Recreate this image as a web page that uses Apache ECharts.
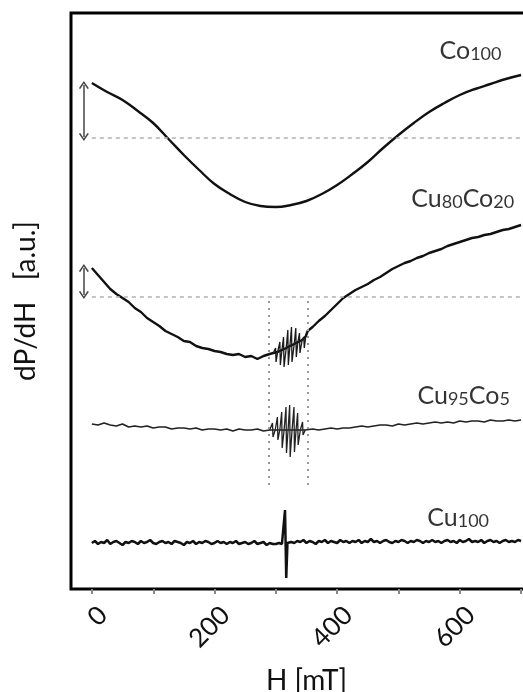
<!DOCTYPE html>
<html>
<head>
<meta charset="utf-8">
<script src="https://cdn.jsdelivr.net/npm/echarts@6/dist/echarts.min.js"></script>
<style>
  html, body { margin: 0; padding: 0; background: #fff; }
  #chart { width: 523px; height: 692px; }
</style>
</head>
<body>
<div id="chart"></div>
<script>
// 数据：H [mT] 与 dP/dH (任意单位，各谱线已上下偏移)
var co100Field  = [0, 25, 50, 75, 100, 125, 150, 175, 200, 225, 250, 275, 300, 325, 350, 375, 400, 425, 450, 475, 500, 525, 550, 575, 600, 625, 650, 675, 700];
var co100Signal = [506, 497, 489, 478, 466, 450, 434, 419, 405, 395, 387, 383, 382, 384, 388, 395, 404, 415, 427, 441, 454, 466, 477, 486, 494, 500, 505, 510, 514];

// Cu80Co20 宽峰(基线)
var cu80Field  = [0, 10, 20, 30, 40, 50, 60, 70, 80, 90, 100, 110, 120, 130, 140, 150, 160, 170, 180, 190, 200, 210, 220, 230, 240, 250, 260, 270, 280, 290,
                  296, 303, 310, 317, 323, 330, 336, 343, 349, 352,
                  360, 370, 380, 390, 400, 410, 420, 430, 440, 450, 460, 470, 480, 490, 500, 510, 520, 530, 540, 550, 560, 570, 580, 590, 600, 610, 620, 630, 640, 650, 660, 670, 680, 690, 700];
var cu80Signal = [321, 314, 307, 300, 295, 291, 287, 281, 277, 271, 267, 263, 258, 255, 252, 248, 247, 243, 241, 240, 238, 237, 235, 234, 235, 232, 233, 230, 233, 235,
                  236, 237, 239, 241, 243, 245, 247, 249, 253, 258,
                  262, 268, 273, 279, 285, 291, 295, 299, 302, 305, 309, 312, 316, 320, 323, 326, 328, 331, 333, 336, 338, 340, 343, 345, 347, 349, 351, 352, 354, 355, 357, 359, 360, 362, 364];
// Cu80Co20 超精细线
var cu80HfField  = [296, 299.6, 300.4, 303, 306.6, 307.4, 310, 312.6, 313.4, 317, 319.6, 320.4, 323, 325.6, 326.4, 330,
                    332.6, 333.4, 336, 338.6, 339.4, 343, 345.6, 346.4, 349];
var cu80HfSignal = [236, 241, 227, 237, 247, 224, 239, 252, 222, 241, 259, 224, 243, 262, 227, 245,
                    261, 232, 247, 256, 236, 249, 252, 241, 253];

// Cu95Co5 基线
var cu95Field  = [0, 10, 20, 30, 40, 50, 60, 70, 80, 90, 100, 110, 120, 130, 140, 150, 160, 170, 180, 190, 200, 210, 220, 230, 240, 250, 260, 270, 280, 290,
                  299, 306.5, 313.5, 320, 326.5, 333, 340, 348,
                  360, 370, 380, 390, 400, 410, 420, 430, 440, 450, 460, 470, 480, 490, 500, 510, 520, 530, 540, 550, 560, 570, 580, 590, 600, 610, 620, 630, 640, 650, 660, 670, 680, 690, 700];
var cu95Signal = [165, 164, 166, 164, 163, 165, 162, 163, 162, 163, 161, 162, 162, 160, 161, 161, 160, 161, 159, 160, 160, 159, 160, 158, 160, 159, 159, 160, 158, 159,
                  159, 159, 159, 159, 159, 159, 159, 159,
                  160, 159, 160, 161, 160, 161, 161, 162, 163, 162, 163, 164, 164, 163, 165, 164, 165, 166, 165, 166, 167, 166, 167, 166, 168, 167, 168, 168, 167, 169, 168, 168, 169, 168, 169];
// Cu95Co5 超精细线
var cu95HfField  = [290, 294.6, 295.4, 299, 302.6, 303.4, 306.5, 309.6, 310.4, 313.5, 316.6, 317.4, 320, 322.6, 323.4, 326.5,
                    329.6, 330.4, 333, 335.6, 336.4, 340, 343.6, 344.4, 348];
var cu95HfSignal = [159, 166, 152, 159, 172, 149, 159, 177, 141, 159, 182, 136, 159, 184, 132, 159,
                    182, 137, 159, 176, 144, 159, 167, 154, 159];

// Cu100：5 mT 采样
var cu100Field = [];
var cu100Signal = [
    46, 48, 45, 47, 46, 49, 45, 47, 48, 46,
    44, 47, 46, 48, 47, 45, 48, 46, 47, 49,
    46, 45, 47, 48, 46, 47, 45, 48, 47, 46,
    44, 47, 46, 48, 45, 47, 46, 48, 47, 45,
    46, 48, 46, 47, 45, 47, 46, 48, 45, 46,
    47, 45, 46, 48, 45, 46, 47, 44, 46, 45,
    45, 46, 45,
    79, 11, 46,
    47, 46, 48, 47, 49, 46, 48, 47, 45, 48,
    47, 49, 46, 48, 47, 46, 49, 47, 48, 46,
    48, 47, 49, 46, 48, 47, 50, 47, 48, 46,
    48, 49, 47, 46, 48, 47, 49, 48, 46, 48,
    47, 49, 48, 46, 48, 47, 49, 47, 48, 46,
    48, 49, 47, 48, 46, 49, 47, 48, 50, 47,
    48, 47, 49, 46, 48, 49, 47, 48, 46, 48,
    49, 47, 48, 47, 49, 48
];
(function () {
    var h;
    for (h = 0; h <= 310; h += 5) cu100Field.push(h);
    cu100Field.push(315, 317, 319);
    for (h = 325; h <= 700; h += 5) cu100Field.push(h);
})();

// 基线(虚线)、超精细区间(点线)、箭头
var baseLevels = [451, 292];            // Co100, Cu80Co20 的零点
var hfBounds = [289, 352];              // 超精细结构区间 H
var hfRange = [104, 292];               // 点线的纵向范围
var arrowCo100 = [504, 452];
var arrowCu80 = [321, 294];

// 样品名称 [H, 信号, 文本]
var sampleLabels = [
    [567, 539, '{m|Co}{s|100}'],
    [521, 391, '{m|Cu}{s|80}{m|Co}{s|20}'],
    [531, 194, '{m|Cu}{s|95}{m|Co}{s|5}'],
    [547, 72, '{m|Cu}{s|100}']
];

var xTicks = [0, 200, 400, 600];

function pairs(xs, ys) {
    var out = [];
    for (var i = 0; i < xs.length; i++) out.push([xs[i], ys[i]]);
    return out;
}

var chart = echarts.init(document.getElementById('chart'));

var chevron = 'path://M0,9 L5,0 L10,9 L8.6,9.8 L5,3.2 L1.4,9.8 Z';
var textFont = 'Lato, "Noto Sans", sans-serif';

var option = {
    backgroundColor: '#fff',
    animation: false,
    textStyle: { fontFamily: textFont },
    grid: [
        {   // 画框与曲线(右边框在画布外)
            left: 71, right: -3, top: 13, bottom: 103, containLabel: false, outerBoundsMode: 'none',
            show: true, borderColor: '#000', borderWidth: 3, backgroundColor: 'transparent'
        },
        { left: 92, right: 2, top: 13, bottom: 103, containLabel: false, outerBoundsMode: 'none' },     // 刻度
        { left: 103, right: -9, top: 13, bottom: 103, containLabel: false, outerBoundsMode: 'none' }    // 斜排刻度标签(略向右下偏移)
    ],
    xAxis: [
        {
            type: 'value', gridIndex: 0, min: -34, max: 708,
            axisLine: { show: false }, axisTick: { show: false }, axisLabel: { show: false }, splitLine: { show: false }
        },
        {   // 刻度
            type: 'value', gridIndex: 1, min: 0, max: 700, interval: 100,
            name: 'H [mT]', nameLocation: 'middle', nameGap: 78,
            nameTextStyle: { fontSize: 28, color: '#111', fontFamily: textFont },
            axisLine: { show: false },
            axisTick: { show: true, length: 5, lineStyle: { color: '#888', width: 2 } },
            axisLabel: { show: false },
            splitLine: { show: false }
        },
        {   // 刻度标签
            type: 'value', gridIndex: 2, min: 0, max: 700, interval: 100,
            axisLine: { show: false }, axisTick: { show: false }, splitLine: { show: false },
            axisLabel: {
                rotate: 45, margin: 22, fontSize: 26, color: '#111', fontFamily: textFont,
                formatter: function (v) { return xTicks.indexOf(v) >= 0 ? String(v) : ''; }
            }
        }
    ],
    yAxis: [
        {
            type: 'value', gridIndex: 0, min: 0, max: 576,
            name: 'dP/dH   [a.u.]', nameLocation: 'middle', nameGap: 31,
            nameTextStyle: { fontSize: 28, color: '#111', fontFamily: textFont },
            axisLine: { show: false }, axisTick: { show: false }, axisLabel: { show: false }, splitLine: { show: false }
        },
        { type: 'value', gridIndex: 1, min: 0, max: 576, show: false },
        { type: 'value', gridIndex: 2, min: 0, max: 576, show: false }
    ],
    series: [
        {
            name: 'Co100', type: 'line', xAxisIndex: 0, yAxisIndex: 0,
            data: pairs(co100Field, co100Signal), smooth: 0.4, showSymbol: false,
            lineStyle: { color: '#111', width: 2.4 },
            markLine: {
                silent: true, symbol: 'none', label: { show: false },
                data: [
                    [{ coord: [0, baseLevels[0]] }, { coord: [708, baseLevels[0]] }],
                    [{ coord: [0, baseLevels[1]] }, { coord: [708, baseLevels[1]] }],
                    [{ coord: [hfBounds[0], hfRange[0]], lineStyle: { type: [2, 5], width: 2, color: '#999' } }, { coord: [hfBounds[0], hfRange[1]] }],
                    [{ coord: [hfBounds[1], hfRange[0]], lineStyle: { type: [2, 5], width: 2, color: '#999' } }, { coord: [hfBounds[1], hfRange[1]] }],
                    [{ coord: [-13, arrowCo100[0]], symbol: chevron, symbolSize: [10, 8], lineStyle: { type: 'solid', width: 1.5, color: '#444' } },
                     { coord: [-13, arrowCo100[1]], symbol: chevron, symbolSize: [10, 8] }],
                    [{ coord: [-13, arrowCu80[0]], symbol: chevron, symbolSize: [10, 8], lineStyle: { type: 'solid', width: 1.5, color: '#444' } },
                     { coord: [-13, arrowCu80[1]], symbol: chevron, symbolSize: [10, 8] }]
                ],
                lineStyle: { type: [4, 4], color: '#b0b0b0', width: 1.5 }
            }
        },
        {
            name: 'Cu80Co20', type: 'line', xAxisIndex: 0, yAxisIndex: 0,
            data: pairs(cu80Field, cu80Signal), showSymbol: false,
            lineStyle: { color: '#111', width: 2.4 }
        },
        {
            name: 'Cu80Co20 hf', type: 'line', xAxisIndex: 0, yAxisIndex: 0,
            data: pairs(cu80HfField, cu80HfSignal), showSymbol: false,
            lineStyle: { color: '#1a1a1a', width: 1.3 }
        },
        {
            name: 'Cu95Co5', type: 'line', xAxisIndex: 0, yAxisIndex: 0,
            data: pairs(cu95Field, cu95Signal), showSymbol: false,
            lineStyle: { color: '#222', width: 1.7 }
        },
        {
            name: 'Cu95Co5 hf', type: 'line', xAxisIndex: 0, yAxisIndex: 0,
            data: pairs(cu95HfField, cu95HfSignal), showSymbol: false,
            lineStyle: { color: '#222', width: 1.3 }
        },
        {
            name: 'Cu100', type: 'line', xAxisIndex: 0, yAxisIndex: 0,
            data: pairs(cu100Field, cu100Signal), showSymbol: false,
            lineStyle: { color: '#111', width: 2.5 }
        },
        {
            name: 'labels', type: 'scatter', xAxisIndex: 0, yAxisIndex: 0,
            symbolSize: 0, silent: true,
            data: sampleLabels,
            label: {
                show: true, position: 'right', distance: 0,
                formatter: function (p) { return p.data[2]; },
                rich: {
                    m: { fontSize: 25, color: '#000', fontFamily: textFont, verticalAlign: 'bottom', lineHeight: 27 },
                    s: { fontSize: 18, color: '#000', fontFamily: textFont, verticalAlign: 'bottom', lineHeight: 23 }
                }
            }
        }
    ]
};

chart.setOption(option);
</script>
</body>
</html>
